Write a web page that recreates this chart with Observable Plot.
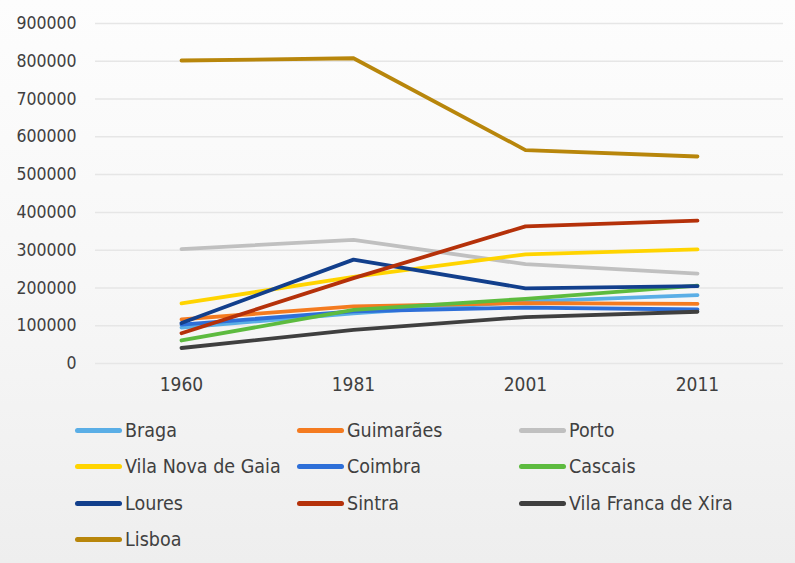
<!DOCTYPE html>
<html>
<head>
<meta charset="utf-8">
<script src="https://cdn.jsdelivr.net/npm/d3@7"></script>
<script src="https://cdn.jsdelivr.net/npm/@observablehq/plot@0.6"></script>
<style>
  html, body { margin: 0; padding: 0; }
  body {
    width: 795px; height: 563px; overflow: hidden;
    background: linear-gradient(to bottom, #fdfdfd 0%, #f7f7f7 50%, #eeeeee 100%);
    font-family: "DejaVu Sans Condensed", "DejaVu Sans", sans-serif;
    color: #404040;
  }
  #chart { position: absolute; left: 0; top: 0; }
  #legend {
    position: absolute; left: 75px; top: 412px;
    display: grid; grid-template-columns: 222px 222px 222px;
    grid-auto-rows: 36.5px;
  }
  .item { display: flex; align-items: center; font-size: 19.5px; white-space: nowrap; }
  .sw { width: 47px; height: 5px; border-radius: 3px; margin-right: 3px; }
</style>
</head>
<body>
<div id="chart"></div>
<div id="legend"></div>
<script>
const years = ["1960", "1981", "2001", "2011"];
const cities = ["Braga", "Guimarães", "Porto", "Vila Nova de Gaia", "Coimbra", "Cascais", "Loures", "Sintra", "Vila Franca de Xira", "Lisboa"];
const colors = ["#5aaee6", "#f47b20", "#c0c0c0", "#ffd400", "#2e6fd8", "#5dbb3f", "#123f8c", "#b5310a", "#3f3f3f", "#b8860b"];
const yTicks = [0, 100000, 200000, 300000, 400000, 500000, 600000, 700000, 800000, 900000];

const braga = [95000, 133000, 164000, 181000];
const guimaraes = [117000, 151000, 160000, 158000];
const porto = [303000, 327000, 263000, 238000];
const gaia = [159000, 229000, 289000, 302000];
const coimbra = [103000, 138000, 148000, 143000];
const cascais = [61000, 142000, 171000, 206000];
const loures = [107000, 275000, 199000, 205000];
const sintra = [80000, 226000, 363000, 378000];
const vfxira = [41000, 89000, 123000, 137000];
const lisboa = [802000, 808000, 565000, 548000];

const series = [braga, guimaraes, porto, gaia, coimbra, cascais, loures, sintra, vfxira, lisboa];
const data = cities.flatMap((c, i) => years.map((y, j) => ({city: c, year: y, value: series[i][j]})));

const chart = Plot.plot({
  width: 795, height: 400,
  marginLeft: 95, marginRight: 12, marginTop: 23, marginBottom: 37,
  style: {background: "transparent", fontFamily: "'DejaVu Sans Condensed', 'DejaVu Sans', sans-serif", color: "#404040"},
  x: {type: "point", domain: years, padding: 0.5},
  y: {domain: [0, 900000]},
  color: {domain: cities, range: colors},
  marks: [
    Plot.gridY(yTicks, {stroke: "#e6e6e6", strokeOpacity: 1, strokeWidth: 1.5}),
    Plot.axisY(yTicks, {tickSize: 0, tickPadding: 19, tickFormat: d3.format("d"), fontSize: 17.5, fill: "#404040", label: null}),
    Plot.axisX({tickSize: 0, tickPadding: 14, fontSize: 19, fill: "#404040", label: null}),
    Plot.lineY(data, {x: "year", y: "value", stroke: "city", z: "city", strokeWidth: 3.8})
  ]
});
document.getElementById("chart").appendChild(chart);

const legend = document.getElementById("legend");
cities.forEach((c, i) => {
  const item = document.createElement("div");
  item.className = "item";
  const sw = document.createElement("span");
  sw.className = "sw";
  sw.style.background = colors[i];
  const t = document.createElement("span");
  t.textContent = c;
  item.appendChild(sw);
  item.appendChild(t);
  legend.appendChild(item);
});
</script>
</body>
</html>
